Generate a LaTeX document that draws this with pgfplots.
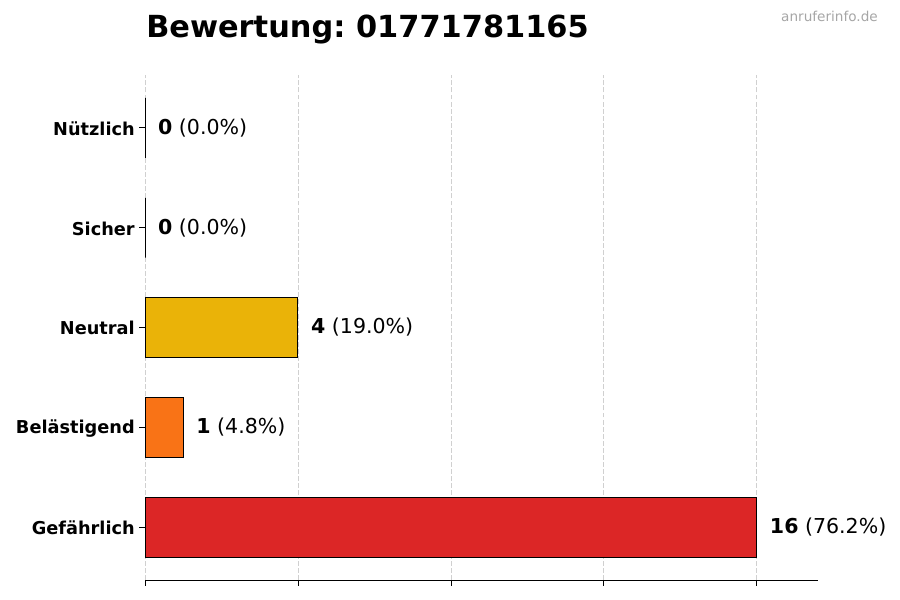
\documentclass[border=0pt]{standalone}
\usepackage{pgfplots}
\pgfplotsset{compat=1.18}
\usepackage{fontspec}
\setmainfont{DejaVu Sans}
\frenchspacing

\definecolor{cred}{HTML}{DC2626}
\definecolor{corange}{HTML}{F97316}
\definecolor{cyellow}{HTML}{EAB308}
\definecolor{gridgray}{HTML}{D0D0D0}

\begin{document}
\begin{tikzpicture}
	\path[use as bounding box] (0,0) rectangle (675pt,450pt);
	\node[anchor=base west, inner sep=0pt] at (109.5pt,421.9pt)
		{\fontsize{22.8}{27}\selectfont\bfseries Bewertung: 01771781165};
	\node[anchor=base east, inner sep=0pt, text=black!35] at (658.5pt,433.5pt)
		{\fontsize{10.2}{12}\selectfont anruferinfo.de};
	\begin{axis}[
			at={(108.75pt,15pt)}, anchor=south west,
			scale only axis,
			width=504.75pt, height=378.75pt,
			xmin=0, xmax=17.6,
			ymin=-0.53, ymax=4.53,
			axis x line*=bottom,
			axis y line*=left,
			x axis line style={-, line width=0.6pt},
			y axis line style={draw=none},
			xtick={0,4,8,12,16},
			xticklabels={},
			ytick={0,1,2,3,4},
			yticklabels={Gefährlich,Belästigend,Neutral,Sicher,Nützlich},
			tick align=outside,
			major tick length=4.5pt,
			every tick/.style={black, line width=0.6pt},
			yticklabel style={font=\fontsize{13.3}{15}\selectfont\bfseries, inner sep=0pt, xshift=-3pt, yshift=-0.6pt},
			xmajorgrids=true,
			grid style={gridgray, line width=0.6pt, dash pattern=on 3.7pt off 1.6pt},
			every node near coord/.append style={anchor=west, inner sep=0pt, xshift=9.5pt,
				font=\fontsize{15.4}{18}\selectfont, text=black},
			bar width=0.6, bar shift=0pt,
		]
		\addplot[xbar, fill=cred, draw=black, line width=0.75pt,
			nodes near coords={\textbf{16} (76.2\%)}] coordinates {(16,0)};
		\addplot[xbar, fill=corange, draw=black, line width=0.75pt,
			nodes near coords={\textbf{1} (4.8\%)}] coordinates {(1,1)};
		\addplot[xbar, fill=cyellow, draw=black, line width=0.75pt,
			nodes near coords={\textbf{4} (19.0\%)}] coordinates {(4,2)};
		\addplot[xbar, fill=gray, draw=black, line width=0.75pt,
			nodes near coords={\textbf{0} (0.0\%)}] coordinates {(0,3)};
		\addplot[xbar, fill=gray, draw=black, line width=0.75pt,
			nodes near coords={\textbf{0} (0.0\%)}] coordinates {(0,4)};
	\end{axis}
\end{tikzpicture}
\end{document}
